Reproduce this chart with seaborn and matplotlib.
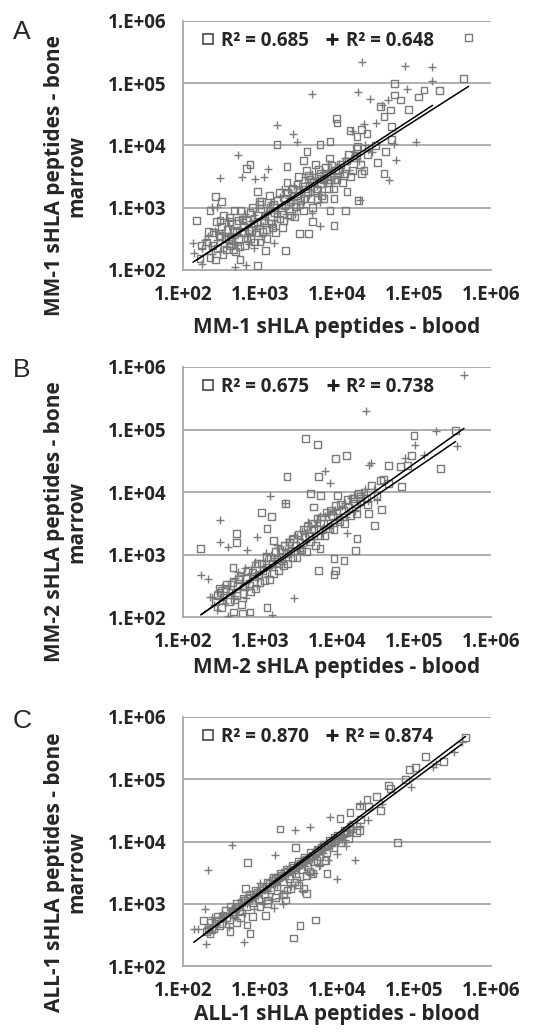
import matplotlib
matplotlib.use("Agg")
import numpy as np
import pandas as pd
import matplotlib.pyplot as plt
import seaborn as sns
from matplotlib.lines import Line2D

# log10(blood), log10(bone marrow) pairs
A_SQUARES = [
    (5.71, 5.73), (5.64, 5.07), (5.33, 4.88), (5.13, 4.89), (5.06, 4.78), (4.93, 4.58),
    (4.75, 4.99), (4.75, 4.81), (4.82, 4.73), (4.69, 4.57), (4.61, 4.46), (4.71, 4.30),
    (4.71, 4.09), (4.63, 3.91), (4.61, 3.55), (4.53, 3.73), (4.39, 4.19), (4.56, 4.63),
    (3.99, 4.43), (4.00, 4.36), (4.17, 4.24), (4.26, 4.14), (4.32, 4.26), (4.27, 3.98),
    (4.25, 3.83), (4.32, 3.55), (4.28, 3.12), (3.22, 4.02), (3.91, 4.06), (3.78, 4.02),
    (3.61, 3.90), (3.57, 3.76), (3.35, 3.66), (2.87, 3.70), (2.82, 3.63), (2.97, 3.26),
    (2.99, 3.10), (2.50, 3.10), (2.42, 3.18), (2.35, 2.95), (2.18, 2.79), (2.48, 2.80),
    (2.61, 2.78), (2.61, 2.53), (2.48, 2.53), (2.24, 2.40), (2.22, 2.19), (2.42, 2.16),
    (2.66, 2.32), (2.74, 2.17), (2.97, 2.07), (3.07, 2.31), (3.33, 2.31), (3.51, 2.59),
    (3.63, 2.58), (3.68, 2.78), (3.91, 2.95), (3.96, 2.72), (4.11, 2.95), (4.13, 3.26),
    (3.96, 3.15), (3.74, 3.13), (3.78, 3.47), (3.42, 3.31), (2.72, 2.80),
    (2.30, 2.45), (2.35, 2.20), (2.40, 2.60), (2.45, 2.35), (2.50, 2.70), (2.52, 2.25),
    (2.55, 2.50), (2.60, 2.85), (2.62, 2.40), (2.65, 2.62), (2.68, 2.30), (2.70, 2.75),
    (2.72, 2.50), (2.75, 2.95), (2.78, 2.60), (2.80, 2.40), (2.82, 2.80), (2.85, 2.65),
    (2.88, 2.50), (2.90, 3.00), (2.92, 2.75), (2.95, 2.60), (2.98, 2.88), (3.00, 2.45),
    (3.02, 3.10), (3.05, 2.80), (3.08, 2.65), (3.10, 2.95), (3.12, 3.20), (3.15, 2.75),
    (3.18, 3.05), (3.20, 2.60), (3.22, 2.90), (3.25, 3.25), (3.28, 3.00), (3.30, 2.80),
    (3.32, 3.15), (3.35, 3.40), (3.38, 2.95), (3.40, 3.10), (3.42, 3.30), (3.45, 2.85),
    (3.48, 3.20), (3.50, 3.50), (3.52, 3.05), (3.55, 3.35), (3.58, 3.15), (3.60, 3.60),
    (3.62, 3.25), (3.65, 3.45), (3.68, 3.00), (3.70, 3.40), (3.72, 3.70), (3.75, 3.30),
    (3.78, 3.55), (3.80, 3.20), (3.82, 3.45), (3.85, 3.65), (3.88, 3.40), (3.90, 3.80),
    (3.92, 3.50), (3.95, 3.30), (3.98, 3.60), (4.00, 3.45), (4.05, 3.70), (4.10, 3.55),
    (4.15, 3.85), (4.20, 3.60), (4.25, 3.95), (4.30, 3.70), (4.40, 3.85), (4.50, 4.00),
    (2.33, 2.62), (2.38, 2.40), (2.43, 2.78), (2.47, 2.55), (2.53, 2.88), (2.57, 2.32),
    (2.58, 2.65), (2.63, 2.48), (2.67, 2.95), (2.69, 2.60), (2.73, 2.38), (2.77, 2.82),
    (2.79, 2.70), (2.83, 2.52), (2.87, 2.92), (2.89, 2.64), (2.93, 2.45), (2.97, 2.78),
    (2.99, 3.05), (3.03, 2.62), (3.06, 2.88), (3.09, 2.50), (3.13, 3.00), (3.16, 2.68),
    (3.19, 2.92), (3.23, 3.12), (3.26, 2.82), (3.29, 2.68), (3.33, 3.05), (3.36, 3.25),
    (3.39, 2.88), (3.43, 3.18), (3.46, 3.02), (3.49, 3.38), (3.53, 3.12), (3.56, 2.95),
    (3.59, 3.30), (3.63, 3.52), (3.66, 3.15), (3.69, 3.42), (3.73, 3.28), (3.76, 3.62),
    (3.79, 3.38), (3.83, 3.15), (3.86, 3.55), (3.89, 3.30), (3.93, 3.68), (3.97, 3.45),
    (4.02, 3.62), (4.07, 3.40), (4.12, 3.75), (4.18, 3.50), (4.22, 3.80), (4.35, 3.60),
]
A_PLUSES = [
    (4.32, 5.34), (4.88, 5.28), (5.23, 5.26), (5.24, 5.04), (4.27, 4.86), (3.68, 4.82),
    (4.43, 4.74), (4.91, 4.91), (4.59, 4.65), (4.66, 4.73), (4.35, 4.34), (4.20, 4.24),
    (4.51, 4.36), (5.02, 4.06), (3.22, 4.33), (3.43, 4.18), (3.48, 4.06), (2.71, 3.84),
    (3.11, 3.63), (3.05, 3.50), (2.94, 3.46), (2.77, 3.50), (2.48, 3.48), (2.44, 3.02),
    (2.38, 3.02), (2.13, 2.43), (2.14, 2.27), (2.25, 2.09), (2.68, 2.05), (2.82, 2.08),
    (4.76, 3.76), (4.67, 3.44), (4.74, 4.03), (4.30, 3.12), (3.78, 2.70), (3.68, 2.91),
    (3.35, 2.83), (3.85, 3.44), (2.61, 2.59), (2.92, 2.35), (3.18, 2.43),
    (2.25, 2.35), (2.32, 2.55), (2.38, 2.25), (2.44, 2.48), (2.50, 2.60), (2.56, 2.38),
    (2.60, 2.70), (2.66, 2.52), (2.70, 2.40), (2.74, 2.68), (2.80, 2.90), (2.84, 2.55),
    (2.88, 2.78), (2.94, 2.62), (2.98, 3.00), (3.04, 2.70), (3.08, 2.92), (3.14, 3.10),
    (3.18, 2.80), (3.24, 3.00), (3.28, 3.30), (3.34, 2.90), (3.38, 3.15), (3.44, 3.35),
    (3.48, 3.00), (3.54, 3.25), (3.58, 3.50), (3.64, 3.20), (3.68, 3.55), (3.74, 3.35),
    (3.78, 3.10), (3.84, 3.50), (3.88, 3.70), (3.94, 3.40), (3.98, 3.65), (4.04, 3.50),
    (4.10, 3.80), (4.16, 3.60), (4.22, 3.90), (4.28, 3.75), (4.36, 4.00), (4.45, 3.90),
    (2.28, 2.48), (2.36, 2.38), (2.42, 2.62), (2.48, 2.30), (2.54, 2.55), (2.58, 2.78),
    (2.64, 2.44), (2.72, 2.58), (2.76, 2.82), (2.82, 2.65), (2.86, 2.42), (2.92, 2.88),
    (2.96, 2.70), (3.02, 2.55), (3.06, 2.82), (3.12, 3.02), (3.16, 2.72), (3.22, 2.92),
    (3.26, 3.18), (3.32, 2.98), (3.36, 3.28), (3.42, 3.08), (3.46, 2.90), (3.52, 3.30),
    (3.56, 3.10), (3.62, 3.42), (3.66, 3.28), (3.72, 3.48), (3.76, 3.22), (3.82, 3.58),
    (3.86, 3.40), (3.92, 3.62), (3.96, 3.48), (4.02, 3.70), (4.08, 3.58), (4.14, 3.75),
    (4.26, 3.85), (4.40, 3.92),
]
B_SQUARES = [
    (2.23, 3.10), (2.69, 3.34), (2.70, 3.19), (2.65, 2.79), (2.48, 2.39), (3.02, 3.67),
    (3.15, 3.61), (3.09, 3.42), (3.18, 3.23), (3.35, 4.25), (3.59, 4.86), (3.75, 4.76),
    (3.98, 4.53), (4.12, 4.58), (3.76, 4.25), (3.66, 3.98), (3.79, 3.95), (5.00, 4.90),
    (4.97, 4.59), (5.34, 4.38), (5.54, 4.98), (4.84, 4.09), (4.67, 4.14), (4.56, 4.19),
    (4.67, 4.43), (4.82, 4.41), (4.92, 4.43), (4.58, 3.72), (4.49, 3.47), (4.41, 3.66),
    (4.26, 3.26), (4.24, 3.07), (4.09, 2.91), (3.98, 2.75), (3.96, 2.68), (3.96, 2.94),
    (3.76, 2.75), (3.52, 3.07), (3.78, 3.10), (3.09, 2.15), (2.87, 2.08), (2.77, 2.06),
    (2.66, 2.08), (3.33, 3.82), (3.70, 3.76), (4.01, 3.94), (4.30, 3.93),
    (2.45, 2.35), (2.50, 2.15), (2.55, 2.45), (2.60, 2.25), (2.65, 2.55), (2.70, 2.35),
    (2.72, 2.60), (2.76, 2.20), (2.80, 2.50), (2.84, 2.75), (2.88, 2.40), (2.92, 2.65),
    (2.96, 2.85), (3.00, 2.55), (3.04, 2.75), (3.08, 2.95), (3.12, 2.60), (3.16, 2.85),
    (3.20, 3.05), (3.24, 2.75), (3.28, 2.95), (3.32, 3.15), (3.36, 2.85), (3.40, 3.05),
    (3.44, 3.25), (3.48, 2.95), (3.52, 3.20), (3.56, 3.40), (3.60, 3.05), (3.64, 3.30),
    (3.68, 3.50), (3.72, 3.15), (3.76, 3.40), (3.80, 3.60), (3.84, 3.30), (3.88, 3.50),
    (3.92, 3.70), (3.96, 3.40), (4.00, 3.60), (4.05, 3.80), (4.10, 3.50), (4.15, 3.75),
    (4.20, 3.90), (4.25, 3.65), (4.30, 3.85), (4.35, 4.00), (4.40, 3.80), (4.45, 4.10),
    (4.52, 3.95), (4.60, 4.20),
    (2.42, 2.25), (2.47, 2.45), (2.52, 2.32), (2.57, 2.52), (2.62, 2.40), (2.67, 2.28),
    (2.71, 2.50), (2.74, 2.65), (2.78, 2.38), (2.82, 2.62), (2.86, 2.50), (2.90, 2.72),
    (2.94, 2.45), (2.98, 2.68), (3.02, 2.85), (3.06, 2.58), (3.10, 2.80), (3.14, 2.95),
    (3.18, 2.70), (3.22, 2.92), (3.26, 3.08), (3.30, 2.82), (3.34, 3.02), (3.38, 3.20),
    (3.42, 2.95), (3.46, 3.15), (3.50, 3.32), (3.54, 3.08), (3.58, 3.28), (3.62, 3.45),
    (3.66, 3.20), (3.70, 3.40), (3.74, 3.58), (3.78, 3.30), (3.82, 3.50), (3.86, 3.68),
    (3.90, 3.42), (3.94, 3.62), (3.98, 3.78), (4.03, 3.52), (4.08, 3.70), (4.13, 3.88),
    (4.18, 3.62), (4.23, 3.82), (4.28, 3.98), (4.38, 3.90),
]
B_PLUSES = [
    (5.65, 5.88), (4.38, 5.30), (5.28, 4.98), (5.56, 4.74), (5.01, 4.75), (5.13, 4.59),
    (4.88, 4.54), (4.41, 4.44), (4.44, 4.46), (3.85, 4.33), (3.91, 4.15), (3.13, 3.94),
    (3.33, 3.82), (2.48, 3.55), (2.48, 3.20), (2.58, 3.12), (2.83, 3.07), (2.24, 2.68),
    (2.33, 2.61), (2.35, 2.32), (2.59, 2.01), (3.16, 2.04), (3.44, 2.30), (4.52, 3.87),
    (4.13, 3.34), (4.04, 3.61), (2.96, 3.28),
    (2.40, 2.20), (2.46, 2.42), (2.52, 2.30), (2.58, 2.50), (2.64, 2.38), (2.68, 2.62),
    (2.74, 2.45), (2.78, 2.68), (2.82, 2.30), (2.86, 2.60), (2.90, 2.80), (2.96, 2.50),
    (3.00, 2.72), (3.06, 2.90), (3.10, 2.65), (3.14, 3.00), (3.20, 2.82), (3.24, 3.10),
    (3.30, 2.90), (3.34, 3.20), (3.40, 3.00), (3.44, 3.30), (3.50, 3.10), (3.54, 3.38),
    (3.60, 3.20), (3.64, 3.45), (3.70, 3.25), (3.74, 3.55), (3.80, 3.35), (3.84, 3.62),
    (3.90, 3.42), (3.94, 3.70), (4.00, 3.50), (4.06, 3.78), (4.12, 3.60), (4.18, 3.90),
    (4.24, 3.70), (4.32, 3.95), (4.40, 3.85), (4.48, 4.05),
    (2.38, 2.32), (2.44, 2.12), (2.50, 2.48), (2.55, 2.22), (2.61, 2.58), (2.66, 2.30),
    (2.72, 2.72), (2.76, 2.55), (2.80, 2.78), (2.84, 2.48), (2.88, 2.70), (2.94, 2.88),
    (2.98, 2.62), (3.04, 2.82), (3.08, 3.02), (3.12, 2.78), (3.18, 2.95), (3.22, 3.15),
    (3.28, 2.85), (3.32, 3.08), (3.38, 3.25), (3.42, 3.12), (3.48, 3.30), (3.52, 3.05),
    (3.58, 3.35), (3.62, 3.52), (3.68, 3.30), (3.72, 3.48), (3.78, 3.62), (3.82, 3.42),
    (3.88, 3.65), (3.92, 3.50), (3.98, 3.72), (4.04, 3.60), (4.10, 3.82), (4.16, 3.70),
    (4.22, 3.95), (4.30, 3.80), (4.36, 4.05),
]
C_SQUARES = [
    (5.67, 5.67), (5.15, 5.36), (5.02, 5.19), (4.94, 5.16), (5.38, 5.28), (4.67, 4.90),
    (4.69, 4.85), (4.89, 5.00), (4.56, 4.50), (4.39, 4.67), (4.51, 4.72), (4.29, 4.57),
    (4.41, 4.56), (4.17, 4.46), (4.04, 4.37), (4.29, 4.18), (4.79, 3.98), (3.26, 4.20),
    (3.46, 3.91), (2.84, 3.66), (3.87, 3.48), (3.68, 3.49), (3.57, 3.25), (3.60, 3.17),
    (3.33, 3.06), (3.72, 2.74), (3.52, 2.65), (3.44, 2.45), (2.87, 2.52), (3.07, 2.81),
    (2.83, 2.66), (2.61, 2.55), (2.35, 2.52), (2.27, 2.73), (2.81, 3.25), (3.10, 3.06),
    (3.35, 3.22), (3.22, 3.43), (3.74, 3.70), (3.96, 4.07), (4.17, 4.24),
    (2.30, 2.55), (2.35, 2.70), (2.40, 2.60), (2.45, 2.80), (2.50, 2.68), (2.55, 2.90),
    (2.60, 2.75), (2.62, 2.95), (2.66, 2.82), (2.70, 3.00), (2.74, 2.88), (2.78, 3.08),
    (2.82, 2.95), (2.86, 3.15), (2.90, 3.02), (2.94, 3.22), (2.98, 3.08), (3.02, 3.28),
    (3.06, 3.15), (3.10, 3.35), (3.14, 3.22), (3.18, 3.42), (3.22, 3.28), (3.26, 3.48),
    (3.30, 3.35), (3.34, 3.55), (3.38, 3.40), (3.42, 3.62), (3.46, 3.48), (3.50, 3.68),
    (3.54, 3.55), (3.58, 3.75), (3.62, 3.60), (3.66, 3.82), (3.70, 3.68), (3.74, 3.88),
    (3.78, 3.75), (3.82, 3.95), (3.86, 3.82), (3.90, 4.02), (3.95, 3.90), (4.00, 4.10),
    (4.05, 3.98), (4.10, 4.18), (4.15, 4.05), (4.20, 4.28), (4.25, 4.15), (4.30, 4.35),
    (3.00, 2.95), (3.20, 3.10), (3.40, 3.25), (3.60, 3.45), (3.50, 3.30), (2.70, 2.70),
    (2.90, 2.80),
    (2.33, 2.62), (2.37, 2.58), (2.42, 2.72), (2.47, 2.65), (2.52, 2.82), (2.57, 2.78),
    (2.64, 2.88), (2.68, 2.92), (2.72, 2.95), (2.76, 3.02), (2.80, 3.05), (2.84, 3.08),
    (2.88, 3.10), (2.92, 3.15), (2.96, 3.18), (3.00, 3.22), (3.04, 3.25), (3.08, 3.28),
    (3.12, 3.32), (3.16, 3.38), (3.20, 3.40), (3.24, 3.42), (3.28, 3.45), (3.32, 3.50),
    (3.36, 3.52), (3.40, 3.55), (3.44, 3.58), (3.48, 3.62), (3.52, 3.65), (3.56, 3.70),
    (3.60, 3.72), (3.64, 3.75), (3.68, 3.78), (3.72, 3.82), (3.76, 3.85), (3.80, 3.90),
    (3.84, 3.92), (3.88, 3.95), (3.92, 3.98), (3.98, 4.02), (4.02, 4.05), (4.08, 4.12),
    (4.12, 4.15), (4.18, 4.20), (3.10, 3.00), (3.30, 3.15), (3.45, 3.35), (3.65, 3.52),
    (3.85, 3.70), (2.75, 2.78),
]
C_PLUSES = [
    (2.64, 3.94), (2.33, 3.54), (2.29, 2.91), (2.14, 2.59), (2.20, 2.59), (2.30, 2.35),
    (2.79, 2.39), (3.18, 2.93), (3.46, 4.18), (3.65, 4.24), (3.91, 4.40), (4.00, 3.39),
    (4.23, 3.70), (5.25, 5.20), (5.52, 5.44), (5.62, 5.60), (4.96, 4.88), (5.29, 5.25),
    (4.58, 4.61), (4.11, 4.02), (3.78, 3.62), (3.20, 3.78), (3.00, 3.33), (4.30, 4.61),
    (2.32, 2.62), (2.38, 2.78), (2.44, 2.66), (2.50, 2.85), (2.56, 2.72), (2.62, 2.90),
    (2.68, 2.78), (2.74, 2.98), (2.80, 2.85), (2.86, 3.05), (2.92, 2.92), (2.98, 3.12),
    (3.04, 3.00), (3.10, 3.20), (3.16, 3.08), (3.22, 3.30), (3.28, 3.18), (3.34, 3.40),
    (3.40, 3.28), (3.46, 3.50), (3.52, 3.38), (3.58, 3.60), (3.64, 3.48), (3.70, 3.72),
    (3.76, 3.60), (3.82, 3.82), (3.88, 3.70), (3.94, 3.92), (4.00, 3.80), (4.06, 4.02),
    (4.12, 3.92), (4.20, 4.15), (4.30, 4.25), (4.40, 4.35), (3.30, 3.00), (3.55, 3.20),
    (2.35, 2.58), (2.41, 2.70), (2.47, 2.78), (2.53, 2.80), (2.59, 2.85), (2.65, 2.92),
    (2.71, 2.90), (2.77, 3.02), (2.83, 3.00), (2.89, 3.08), (2.95, 3.15), (3.01, 3.18),
    (3.07, 3.22), (3.13, 3.28), (3.19, 3.32), (3.25, 3.38), (3.31, 3.45), (3.37, 3.48),
    (3.43, 3.52), (3.49, 3.58), (3.55, 3.62), (3.61, 3.68), (3.67, 3.72), (3.73, 3.78),
    (3.79, 3.85), (3.85, 3.88), (3.91, 3.95), (3.97, 4.00), (4.03, 4.05), (4.09, 4.10),
    (4.15, 4.18), (3.25, 3.10), (3.45, 3.30), (3.70, 3.50), (2.60, 2.62),
]

PANELS = ["A", "B", "C"]
SAMPLES = ["MM-1", "MM-2", "ALL-1"]
SQUARES = [A_SQUARES, B_SQUARES, C_SQUARES]
PLUSES = [A_PLUSES, B_PLUSES, C_PLUSES]
R2_SQUARES = ["0.685", "0.675", "0.870"]
R2_PLUSES = ["0.648", "0.738", "0.874"]
# trend lines in log10 space (slope, intercept)
FIT_SQUARES = [(0.79, 0.44), (0.838, 0.165), (0.937, 0.376)]
FIT_PLUSES = [(0.81, 0.40), (0.873, 0.086), (0.914, 0.426)]
DECADES = [1e2, 1e3, 1e4, 1e5, 1e6]
TICK_LABELS = ["1.E+02", "1.E+03", "1.E+04", "1.E+05", "1.E+06"]

sns.set_style("white")
plt.rcParams["font.family"] = ["Open Sans", "DejaVu Sans"]

W, H = 550, 1034
GRAY = "#7a7a7a"
AXC = "#a8a8a8"
tops = [21, 367, 717]
bottoms = [270, 617, 966]
letter_y = [32, 370, 721]
xlabel_base = [333, 673, 1020]

fig = plt.figure(figsize=(W / 100, H / 100), dpi=100)

for i in range(3):
    ax = fig.add_axes([183 / W, 1 - bottoms[i] / H, 308 / W, (bottoms[i] - tops[i]) / H])
    sq = pd.DataFrame(SQUARES[i], columns=["blood", "marrow"]).rpow(10)
    pl = pd.DataFrame(PLUSES[i], columns=["blood", "marrow"]).rpow(10)

    sns.scatterplot(data=sq, x="blood", y="marrow", marker="s", s=24,
                    facecolor="none", edgecolor=GRAY, linewidth=1.0, ax=ax, zorder=3)
    sns.scatterplot(data=pl, x="blood", y="marrow", marker="+", s=30,
                    color=GRAY, linewidth=1.0, ax=ax, zorder=3)

    for df, (m, b) in ((pl, FIT_PLUSES[i]), (sq, FIT_SQUARES[i])):
        lx = np.log10([df["blood"].min(), df["blood"].max()])
        ax.plot(10 ** lx, 10 ** (b + m * lx), color="black", lw=1.1, zorder=4)

    ax.set_xscale("log")
    ax.set_yscale("log")
    ax.set_xlim(DECADES[0], DECADES[-1])
    ax.set_ylim(DECADES[0], DECADES[-1])
    ax.set_xticks(DECADES)
    ax.set_xticklabels(TICK_LABELS)
    ax.set_yticks(DECADES)
    ax.set_yticklabels(TICK_LABELS)
    ax.minorticks_off()
    for lbl in ax.get_xticklabels() + ax.get_yticklabels():
        lbl.set_fontweight("bold")
        lbl.set_fontsize(13.5)
    ax.tick_params(axis="x", direction="in", length=5, width=1.2, color=AXC, pad=11)
    ax.tick_params(axis="y", length=0, pad=12)
    ax.set_xlabel("")
    ax.set_ylabel("")

    for v in DECADES[1:]:
        ax.axhline(v, color=AXC, lw=1.3, zorder=1)
    for side in ("top", "right"):
        ax.spines[side].set_visible(False)
    for side in ("left", "bottom"):
        ax.spines[side].set_color(AXC)
        ax.spines[side].set_linewidth(1.3)

    handles = [
        Line2D([], [], ls="none", marker="s", ms=6.5, mfc="none", mec="#555555", mew=1.3),
        Line2D([], [], ls="none", marker="+", ms=8, color="#222222", mew=2.2),
    ]
    ax.legend(handles, [f"R² = {R2_SQUARES[i]}", f"R² = {R2_PLUSES[i]}"], ncol=2,
              loc="upper left", bbox_to_anchor=(0.035, 0.99), frameon=False,
              handlelength=0.7, handletextpad=0.35, columnspacing=0.9, borderaxespad=0,
              prop={"weight": "bold", "size": 13.5})

    fig.text(66 / W, 1 - (tops[i] + 155) / H,
             f"{SAMPLES[i]} sHLA peptides - bone\nmarrow", rotation=90,
             ha="center", va="center", multialignment="center", linespacing=1.1,
             fontsize=15, fontweight="bold")
    fig.text(337 / W, 1 - xlabel_base[i] / H, f"{SAMPLES[i]} sHLA peptides - blood",
             ha="center", va="baseline", fontsize=15, fontweight="bold")
    fig.text(22 / W, 1 - letter_y[i] / H, PANELS[i], ha="center", va="center",
             fontsize=19, family="Liberation Sans")

fig.savefig("out.png", dpi=100, facecolor="white")
